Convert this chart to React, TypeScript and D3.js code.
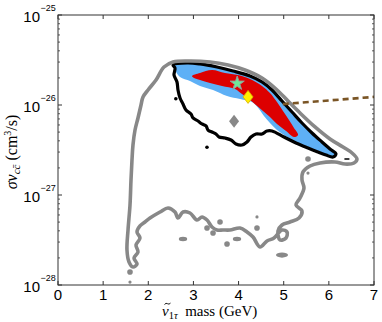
import React from "react";
import * as d3 from "d3";

const massTicks = [0, 1, 2, 3, 4, 5, 6, 7];
const sigmaTicks = [1e-28, 1e-27, 1e-26, 1e-25];
const sigmaExponents = ["−28", "−27", "−26", "−25"];

// all contour points: [mass (GeV), log10 sigma v]
const outerContour = [
  [2.548, -25.522], [2.924, -25.511], [3.367, -25.522], [3.766, -25.556], [4.142, -25.611],
  [4.519, -25.7], [4.829, -25.822], [5.095, -25.956], [5.361, -26.089], [5.693, -26.244],
  [6.025, -26.378], [6.313, -26.467], [6.513, -26.533], [6.623, -26.6], [6.557, -26.644],
  [6.358, -26.656], [6.136, -26.633], [5.804, -26.644], [5.582, -26.678], [5.427, -26.744],
  [5.405, -26.833], [5.449, -26.922], [5.361, -27.033], [5.272, -27.111], [5.405, -27.178],
  [5.339, -27.256], [5.139, -27.3], [4.962, -27.333], [4.873, -27.4], [4.918, -27.5],
  [5.051, -27.478], [5.073, -27.411], [4.962, -27.389], [4.785, -27.478], [4.63, -27.511],
  [4.475, -27.578], [4.32, -27.467], [4.187, -27.411], [4.032, -27.367], [3.81, -27.389],
  [3.655, -27.389], [3.522, -27.389], [3.411, -27.356], [3.301, -27.278], [3.19, -27.244],
  [3.079, -27.278], [2.924, -27.2], [2.769, -27.189], [2.658, -27.256], [2.592, -27.189],
  [2.437, -27.144], [2.26, -27.189], [2.038, -27.256], [1.927, -27.3], [1.816, -27.344],
  [1.75, -27.411], [1.816, -27.478], [1.728, -27.556], [1.772, -27.633], [1.684, -27.7],
  [1.75, -27.767], [1.661, -27.8], [1.573, -27.744], [1.528, -27.611], [1.551, -27.389],
  [1.595, -27.111], [1.617, -26.833], [1.639, -26.611], [1.661, -26.444], [1.706, -26.278],
  [1.772, -26.144], [1.839, -26.0], [1.883, -25.911], [1.994, -25.833], [2.171, -25.722],
  [2.348, -25.578],
];

const blackContour = [
  [2.548, -25.556], [2.858, -25.533], [3.146, -25.544], [3.522, -25.578], [3.877, -25.622],
  [4.253, -25.678], [4.519, -25.744], [4.741, -25.833], [4.962, -25.956], [5.184, -26.078],
  [5.405, -26.2], [5.627, -26.311], [5.848, -26.411], [6.025, -26.489], [6.158, -26.544],
  [6.092, -26.578], [5.937, -26.556], [5.76, -26.522], [5.538, -26.478], [5.272, -26.422],
  [5.006, -26.356], [4.741, -26.289], [4.63, -26.289], [4.519, -26.322], [4.386, -26.322],
  [4.275, -26.356], [4.187, -26.411], [4.076, -26.444], [3.943, -26.433], [3.832, -26.389],
  [3.699, -26.367], [3.567, -26.356], [3.5, -26.322], [3.411, -26.3], [3.323, -26.278],
  [3.279, -26.233], [3.19, -26.211], [3.101, -26.178], [2.991, -26.144], [2.946, -26.1],
  [2.835, -26.056], [2.769, -25.989], [2.703, -25.922], [2.658, -25.833], [2.636, -25.744],
  [2.57, -25.667], [2.592, -25.589],
];

const blueRegion = [
  [2.548, -25.544], [2.858, -25.533], [3.146, -25.544], [3.522, -25.578], [3.877, -25.622],
  [4.253, -25.678], [4.519, -25.744], [4.741, -25.833], [4.962, -25.956], [5.184, -26.078],
  [5.405, -26.2], [5.627, -26.311], [5.848, -26.411], [6.025, -26.489], [6.158, -26.544],
  [6.158, -26.578], [6.025, -26.567], [5.804, -26.533], [5.538, -26.489], [5.294, -26.433],
  [5.073, -26.356], [4.851, -26.278], [4.696, -26.2], [4.563, -26.122], [4.453, -26.044],
  [4.298, -25.967], [4.032, -25.933], [3.744, -25.9], [3.434, -25.833], [3.146, -25.789],
  [2.924, -25.733], [2.703, -25.689], [2.592, -25.611],
];

const redRegion = [
  [2.968, -25.678], [3.146, -25.644], [3.411, -25.611], [3.699, -25.644], [3.987, -25.667],
  [4.253, -25.711], [4.519, -25.789], [4.696, -25.867], [4.851, -25.967], [4.984, -26.067],
  [5.117, -26.167], [5.228, -26.256], [5.317, -26.333], [5.228, -26.356], [5.051, -26.289],
  [4.851, -26.211], [4.696, -26.133], [4.541, -26.067], [4.386, -26.0], [4.231, -25.933],
  [4.076, -25.878], [3.921, -25.822], [3.633, -25.789], [3.367, -25.756], [3.146, -25.722],
  [3.013, -25.7],
];

const starPoint = [3.97, -25.76];
const yellowDiamond = [4.21, -25.91];
const grayDiamond = [3.9, -26.18];
const brownLine = [[4.98, -25.99], [7.0, -25.91]];
const blackSpecks = [[2.61, -25.93], [3.3, -26.47]];
const blackDashes = [[6.4, -26.6]];
const grayDots = [
  [1.595, -27.856], [3.301, -27.367], [3.434, -27.422], [3.589, -27.3], [3.744, -27.544],
  [4.408, -27.367], [5.538, -26.6],
];
const graySmallDots = [[1.595, -27.967], [4.408, -27.244], [5.538, -26.756]];
const grayDashes = [[2.769, -27.489], [3.965, -27.489]];
const grayBlobs = [[4.962, -27.667]];

export default function App() {
  const W = 382, H = 322;
  const left = 58, right = 374, top = 15, bottom = 285;
  const x = d3.scaleLinear().domain([0, 7]).range([left, right]);
  const y = d3.scaleLog().domain([1e-28, 1e-25]).range([bottom, top]);
  const py = (l: number) => y(Math.pow(10, l));

  const closed = d3.line<number[]>()
    .x(d => x(d[0])).y(d => py(d[1]))
    .curve(d3.curveCatmullRomClosed.alpha(0.5));
  const open = d3.line<number[]>().x(d => x(d[0])).y(d => py(d[1]));

  const star = d3.symbol().type(d3.symbolStar).size(62)();

  const diamond = (p: number[], w: number, h: number) => {
    const cx = x(p[0]), cy = py(p[1]);
    return `M${cx},${cy - h}L${cx + w},${cy}L${cx},${cy + h}L${cx - w},${cy}Z`;
  };

  const minor: number[] = [];
  for (let e = -28; e < -25; e++) for (let k = 2; k <= 9; k++) minor.push(k * Math.pow(10, e));

  const tickColor = "#333";
  const sans = "'Liberation Sans', Arial, Helvetica, sans-serif";
  const serif = "'Liberation Serif', 'Times New Roman', serif";

  return (
    <svg width={W} height={H} style={{ position: "absolute", left: 0, top: 0, background: "#fff" }}>
      <rect x={0} y={0} width={W} height={H} fill="#fff" />
      {/* regions */}
      <path d={closed(blueRegion) || ""} fill="#5eb0f6" stroke="none" />
      <path d={closed(redRegion) || ""} fill="#dd0000" stroke="none" />
      <path d={closed(blackContour) || ""} fill="none" stroke="#000" strokeWidth={3.2} strokeLinejoin="round" />
      <path d={closed(outerContour) || ""} fill="none" stroke="#888" strokeWidth={3.6} strokeLinejoin="round" />
      <path d={open(brownLine) || ""} fill="none" stroke="#7a5525" strokeWidth={2.6} strokeDasharray="6,4" />

      {blackSpecks.map((d, i) => <circle key={"bs" + i} cx={x(d[0])} cy={py(d[1])} r={1.8} fill="#000" />)}
      {blackDashes.map((d, i) => <line key={"bd" + i} x1={x(d[0]) - 2.5} x2={x(d[0]) + 2.5} y1={py(d[1])} y2={py(d[1])} stroke="#000" strokeWidth={1.5} />)}
      {grayDots.map((d, i) => <circle key={"gd" + i} cx={x(d[0])} cy={py(d[1])} r={2.8} fill="#888" />)}
      {graySmallDots.map((d, i) => <circle key={"gs" + i} cx={x(d[0])} cy={py(d[1])} r={1.6} fill="#888" />)}
      {grayDashes.map((d, i) => <ellipse key={"gh" + i} cx={x(d[0])} cy={py(d[1])} rx={4.2} ry={2.2} fill="#888" />)}
      {grayBlobs.map((d, i) => <ellipse key={"gb" + i} cx={x(d[0])} cy={py(d[1])} rx={6} ry={2.6} fill="#888" />)}

      <path d={diamond(grayDiamond, 5, 6.5)} fill="#888" />
      <path d={diamond(yellowDiamond, 5, 6.5)} fill="#ffee00" stroke="#d8b000" strokeWidth={0.8} />
      <path d={star || ""} transform={`translate(${x(starPoint[0])},${py(starPoint[1])})`} fill="#6fe898" stroke="#999" strokeWidth={1} />

      {/* frame */}
      <rect x={left} y={top} width={right - left} height={bottom - top} fill="none" stroke={tickColor} strokeWidth={1} />
      {massTicks.map(t => (
        <g key={"xt" + t}>
          <line x1={x(t)} x2={x(t)} y1={bottom} y2={bottom - 4} stroke={tickColor} />
          <line x1={x(t)} x2={x(t)} y1={top} y2={top + 4} stroke={tickColor} />
          <text x={x(t)} y={bottom + 15} textAnchor="middle" fontFamily={sans} fontSize={15} fill="#000">{t}</text>
        </g>
      ))}
      {minor.map((t, i) => (
        <g key={"mt" + i}>
          <line x1={left} x2={left + 2} y1={y(t)} y2={y(t)} stroke={tickColor} strokeWidth={0.8} />
          <line x1={right} x2={right - 2} y1={y(t)} y2={y(t)} stroke={tickColor} strokeWidth={0.8} />
        </g>
      ))}
      {sigmaTicks.map((t, i) => (
        <g key={"yt" + i}>
          <line x1={left} x2={left + 4} y1={y(t)} y2={y(t)} stroke={tickColor} />
          <line x1={right} x2={right - 4} y1={y(t)} y2={y(t)} stroke={tickColor} />
          <text x={40} y={y(t) + 7} textAnchor="end" fontFamily={sans} fontSize={15} fill="#000">10</text>
          <text x={40.5} y={y(t) - 4} textAnchor="start" fontFamily={sans} fontSize={9} fill="#000">{sigmaExponents[i]}</text>
        </g>
      ))}

      {/* axis labels */}
      <path d="M164.5,304.5 q1.5,-2 3,-0.8 t3,-0.6" fill="none" stroke="#000" strokeWidth={0.9} />
      <text x={162} y={316} textAnchor="start" fontFamily={serif} fontSize={15} fill="#000">
        <tspan fontStyle="italic">ν</tspan>
        <tspan fontSize={10.5} dy={3}>1</tspan>
        <tspan fontSize={10.5} fontStyle="italic">τ</tspan>
        <tspan dy={-3}>{"\u00a0\u00a0mass (GeV)"}</tspan>
      </text>
      <text transform="translate(17,152) rotate(-90)" textAnchor="middle" fontFamily={serif} fontSize={16} fill="#000">
        <tspan fontStyle="italic">σv</tspan>
        <tspan fontSize={11} fontStyle="italic" dy={3}>cc̄</tspan>
        <tspan dy={-3}> (cm</tspan>
        <tspan fontSize={10} dy={-6}>3</tspan>
        <tspan dy={6}>/s)</tspan>
      </text>
    </svg>
  );
}
